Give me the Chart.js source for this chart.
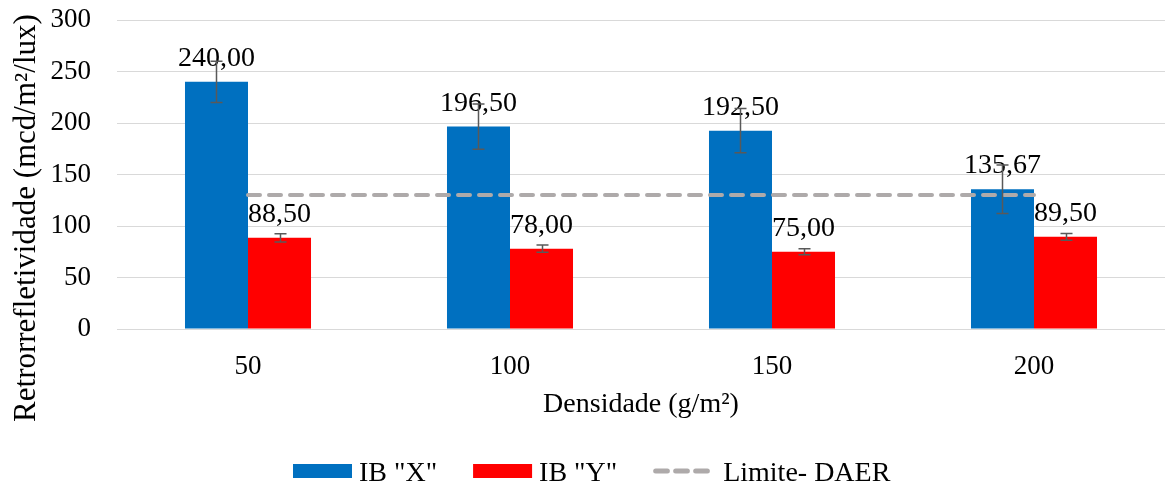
<!DOCTYPE html>
<html><head><meta charset="utf-8">
<script src="https://cdn.jsdelivr.net/npm/chart.js@4"></script>
<style>html,body{margin:0;padding:0;background:#fff}#wrap{width:1165px;height:490px;position:relative}</style>
</head><body><div id="wrap"><canvas id="c"></canvas></div>
<script>
const categories = ['50', '100', '150', '200'];
const seriesNames = ['IB "X"', 'IB "Y"', 'Limite- DAER'];
const ibX = [240.00, 196.50, 192.50, 135.67];
const ibY = [88.50, 78.00, 75.00, 89.50];
const ibXErr = [20, 22, 21.5, 23.5];
const ibYErr = [4, 3.5, 3, 3.3];
const limite = [130, 130, 130, 130];
const yMin = 0, yMax = 300, yStep = 50;
const xTitle = 'Densidade (g/m²)';
const yTitle = 'Retrorrefletividade (mcd/m²/lux)';

const FONT = "'Liberation Serif','Times New Roman',serif";
const BLUE = '#0070C0', RED = '#FF0000', GRAY = '#AEAAAA';

const overlay = {
  id: 'overlay',
  afterDatasetsDraw(chart) {
    const ctx = chart.ctx;
    const ys = chart.scales.y;
    ctx.save();
    ctx.font = '28px ' + FONT;
    ctx.fillStyle = '#000';
    ctx.textAlign = 'center';
    ctx.textBaseline = 'alphabetic';
    [0, 1].forEach(di => {
      chart.getDatasetMeta(di).data.forEach((bar, i) => {
        const v = chart.data.datasets[di].data[i];
        ctx.fillText(v.toFixed(2).replace('.', ','), bar.x, bar.y - 16);
      });
    });
    ctx.strokeStyle = '#595959';
    ctx.lineWidth = 1.5;
    [[0, ibXErr], [1, ibYErr]].forEach(([di, errs]) => {
      chart.getDatasetMeta(di).data.forEach((bar, i) => {
        const v = chart.data.datasets[di].data[i];
        const t = ys.getPixelForValue(v + errs[i]);
        const b = ys.getPixelForValue(v - errs[i]);
        const x = Math.round(bar.x) + 0.5;
        ctx.beginPath();
        ctx.moveTo(x, t); ctx.lineTo(x, b);
        ctx.moveTo(x - 6, t); ctx.lineTo(x + 6, t);
        ctx.moveTo(x - 6, b); ctx.lineTo(x + 6, b);
        ctx.stroke();
      });
    });
    ctx.restore();
  },
  afterDraw(chart) {
    const ctx = chart.ctx;
    const ca = chart.chartArea;
    ctx.save();
    ctx.fillStyle = '#000';
    ctx.font = '28px ' + FONT;
    ctx.textAlign = 'center';
    ctx.textBaseline = 'alphabetic';
    ctx.fillText(xTitle, (ca.left + ca.right) / 2, 412);
    ctx.save();
    ctx.translate(35, 218);
    ctx.rotate(-Math.PI / 2);
    ctx.font = '31px ' + FONT;
    ctx.fillText(yTitle, 0, 0);
    ctx.restore();
    ctx.font = '28px ' + FONT;
    ctx.textAlign = 'left';
    let x = 293;
    const cy = 471, base = 481;
    chart.data.datasets.forEach((ds) => {
      if (ds.type === 'line') {
        ctx.save();
        ctx.strokeStyle = ds.borderColor;
        ctx.lineWidth = 5;
        ctx.lineCap = 'round';
        ctx.setLineDash([11.7, 8.3]);
        ctx.beginPath();
        ctx.moveTo(x + 2.5, cy); ctx.lineTo(x + 56, cy);
        ctx.stroke();
        ctx.restore();
        x += 70;
      } else {
        ctx.fillStyle = ds.backgroundColor;
        ctx.fillRect(x, cy - 7, 59, 14);
        x += 66;
      }
      ctx.fillStyle = '#000';
      ctx.fillText(ds.label, x, base);
      x += ctx.measureText(ds.label).width + 36;
    });
    ctx.restore();
  }
};

new Chart(document.getElementById('c'), {
  data: {
    labels: categories,
    datasets: [
      { type: 'bar', label: seriesNames[0], data: ibX, backgroundColor: BLUE, order: 1,
        categoryPercentage: 0.481, barPercentage: 1 },
      { type: 'bar', label: seriesNames[1], data: ibY, backgroundColor: RED, order: 1,
        categoryPercentage: 0.481, barPercentage: 1 },
      { type: 'line', label: seriesNames[2], data: limite, borderColor: GRAY, borderWidth: 4,
        borderDash: [12, 9], borderCapStyle: 'round', pointRadius: 0, fill: false, order: 0 }
    ]
  },
  options: {
    responsive: true,
    maintainAspectRatio: false,
    animation: false,
    layout: { padding: { top: 20, right: 0, bottom: 0, left: 0 } },
    plugins: { legend: { display: false }, tooltip: { enabled: false } },
    scales: {
      x: {
        type: 'category',
        offset: true,
        grid: { display: false, drawTicks: false },
        border: { display: false },
        ticks: { color: '#000', font: { family: FONT, size: 27 }, padding: 22, maxRotation: 0 },
        afterFit(s) { s.height = 161; s.paddingLeft = 0; s.paddingRight = 0; }
      },
      y: {
        min: yMin, max: yMax,
        grid: { color: '#D9D9D9', lineWidth: 1, drawTicks: false },
        border: { display: false },
        ticks: { stepSize: yStep, color: '#000', font: { family: FONT, size: 27 }, padding: 26 },
        afterFit(s) { s.width = 117; s.paddingTop = 0; s.paddingBottom = 0; }
      }
    }
  },
  plugins: [overlay]
});
</script>
</body></html>
